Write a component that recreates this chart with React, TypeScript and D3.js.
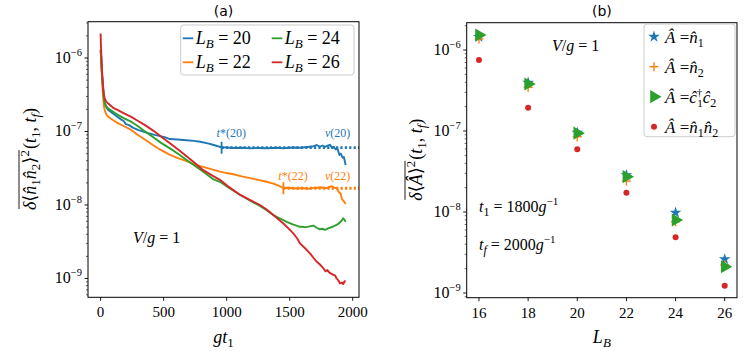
import { useLayoutEffect, useRef, useState } from 'react';
import * as d3 from 'd3';

// left panel: (t, variance) samples
const lb20: [number, number][] = [
  [0, 1.3e-6], [4, 1.1e-6], [10, 6.5e-7], [18, 4.3e-7], [25, 3.0e-7], [32, 2.45e-7], [45, 2.15e-7],
  [58, 1.98e-7], [90, 1.8e-7], [130, 1.6e-7], [164, 1.45e-7], [185, 1.38e-7], [200, 1.26e-7],
  [225, 1.22e-7], [260, 1.12e-7], [296, 1.05e-7], [350, 9.8e-8], [428, 9.0e-8], [508, 8.4e-8],
  [550, 7.9e-8], [610, 7.8e-8], [682, 7.6e-8], [740, 7.45e-8], [790, 7.25e-8], [850, 6.9e-8],
  [891, 6.6e-8], [930, 6.3e-8], [960, 6.1e-8], [1000, 6.05e-8], [1050, 5.95e-8], [1120, 6.0e-8],
  [1185, 5.9e-8], [1250, 5.97e-8], [1320, 5.92e-8], [1400, 6.0e-8], [1450, 5.93e-8], [1520, 6.05e-8],
  [1582, 6.0e-8], [1640, 6.15e-8], [1690, 6.3e-8], [1714, 6.55e-8], [1740, 6.2e-8], [1760, 6.45e-8],
  [1780, 6.2e-8], [1800, 6.4e-8], [1820, 6.6e-8], [1835, 6.0e-8], [1850, 6.2e-8], [1865, 5.7e-8],
  [1880, 5.8e-8], [1895, 4.8e-8], [1905, 5.0e-8], [1920, 4.4e-8], [1930, 4.5e-8], [1944, 3.5e-8],
];
const lb22: [number, number][] = [
  [0, 1.28e-6], [4, 1.0e-6], [10, 5.5e-7], [18, 3.3e-7], [25, 2.3e-7], [32, 1.95e-7], [45, 1.72e-7],
  [58, 1.6e-7], [100, 1.42e-7], [137, 1.3e-7], [190, 1.17e-7], [243, 1.05e-7], [290, 9.1e-8],
  [336, 8.1e-8], [400, 6.8e-8], [470, 5.7e-8], [550, 4.8e-8], [620, 4.3e-8], [682, 3.95e-8],
  [740, 3.6e-8], [790, 3.38e-8], [870, 3.1e-8], [947, 2.85e-8], [1000, 2.72e-8], [1052, 2.62e-8],
  [1120, 2.45e-8], [1185, 2.32e-8], [1250, 2.2e-8], [1317, 2.07e-8], [1370, 1.95e-8], [1423, 1.8e-8],
  [1450, 1.7e-8], [1500, 1.72e-8], [1550, 1.68e-8], [1600, 1.7e-8], [1650, 1.66e-8], [1700, 1.72e-8],
  [1750, 1.73e-8], [1790, 1.7e-8], [1833, 1.8e-8], [1855, 1.72e-8], [1873, 1.68e-8], [1890, 1.5e-8],
  [1905, 1.42e-8], [1915, 1.2e-8], [1930, 1.12e-8], [1944, 1.03e-8],
];
const lb24: [number, number][] = [
  [0, 1.28e-6], [4, 1.05e-6], [10, 6.5e-7], [18, 4.1e-7], [25, 2.9e-7], [32, 2.42e-7], [45, 2.2e-7],
  [58, 2.07e-7], [100, 1.85e-7], [137, 1.68e-7], [190, 1.5e-7], [243, 1.36e-7], [300, 1.17e-7],
  [360, 9.8e-8], [415, 8.4e-8], [480, 7.0e-8], [550, 5.9e-8], [620, 4.9e-8], [682, 4.1e-8],
  [750, 3.4e-8], [812, 2.86e-8], [891, 2.25e-8], [947, 2.07e-8], [1020, 1.7e-8], [1105, 1.38e-8],
  [1180, 1.16e-8], [1264, 9.7e-9], [1320, 8.4e-9], [1370, 7.3e-9], [1420, 6.6e-9], [1476, 5.9e-9],
  [1530, 5.4e-9], [1582, 5.05e-9], [1630, 5.0e-9], [1687, 5.25e-9], [1715, 4.9e-9], [1740, 4.65e-9],
  [1760, 4.75e-9], [1780, 4.6e-9], [1810, 4.85e-9], [1846, 5.1e-9], [1875, 5.4e-9], [1899, 5.8e-9],
  [1915, 6.2e-9], [1925, 6.6e-9], [1935, 6.3e-9], [1944, 5.9e-9],
];
const lb26: [number, number][] = [
  [0, 2.15e-6], [2, 1.6e-6], [5, 1.2e-6], [10, 7.0e-7], [18, 4.5e-7], [25, 3.3e-7], [32, 2.85e-7],
  [45, 2.55e-7], [58, 2.42e-7], [100, 2.1e-7], [137, 1.95e-7], [190, 1.75e-7], [243, 1.58e-7],
  [300, 1.38e-7], [349, 1.23e-7], [420, 1.02e-7], [481, 8.5e-8], [550, 6.9e-8], [620, 5.6e-8],
  [682, 4.6e-8], [750, 3.7e-8], [812, 3.0e-8], [880, 2.55e-8], [947, 2.2e-8], [1020, 1.75e-8],
  [1105, 1.38e-8], [1180, 1.18e-8], [1264, 1.0e-8], [1320, 8.6e-9], [1370, 7.3e-9], [1410, 6.4e-9],
  [1450, 5.6e-9], [1490, 4.8e-9], [1529, 4.1e-9], [1560, 3.5e-9], [1582, 3.0e-9], [1620, 2.6e-9],
  [1661, 2.2e-9], [1690, 1.9e-9], [1714, 1.7e-9], [1740, 1.55e-9], [1767, 1.38e-9], [1785, 1.25e-9],
  [1800, 1.3e-9], [1815, 1.2e-9], [1846, 1.12e-9], [1860, 1.1e-9], [1873, 1.0e-9], [1890, 9.2e-10],
  [1899, 8.6e-10], [1915, 8.8e-10], [1925, 8.4e-10], [1935, 9.2e-10], [1944, 9.0e-10],
];

// plateaus nu(L) and the times t*(L) where they start
const tStar20 = 960;
const nu20 = 6.02e-8;
const tStar22 = 1450;
const nu22 = 1.69e-8;

const xTicksA = [0, 500, 1000, 1500, 2000];
const decadesA = [-9, -8, -7, -6];

// right panel
const LB = [16, 18, 20, 22, 24, 26];
const varN1 = [1.45e-6, 3.95e-7, 9.55e-8, 2.86e-8, 9.8e-9, 2.61e-9];
const varN2 = [1.37e-6, 3.46e-7, 8.5e-8, 2.41e-8, 7.58e-9, 2.22e-9];
const varC1C2 = [1.53e-6, 3.8e-7, 9.4e-8, 2.73e-8, 7.96e-9, 2.11e-9];
const varN1N2 = [7.5e-7, 1.94e-7, 5.95e-8, 1.73e-8, 4.87e-9, 1.23e-9];
const xTicksB = [16, 18, 20, 22, 24, 26];
const decadesB = [-9, -8, -7, -6];

const C = { blue: '#1f77b4', orange: '#ff7f0e', green: '#2ca02c', red: '#d62728' };

const A = { left: 88, right: 359, top: 21.7, bottom: 297.3 };
const B = { left: 466.7, right: 737, top: 22.7, bottom: 297.7 };

const xA = d3.scaleLinear().domain([-100, 2050]).range([A.left, A.right]);
const yA = d3.scaleLog().domain([10 ** -9.256, 10 ** -5.506]).range([A.bottom, A.top]);
const xB = d3.scaleLinear().domain([15.5, 26.5]).range([B.left, B.right]);
const yB = d3.scaleLog().domain([10 ** -9.058, 10 ** -5.663]).range([B.bottom, B.top]);

function minorTicks(scale: d3.ScaleLogarithmic<number, number>) {
  const [lo, hi] = scale.domain();
  const out: number[] = [];
  for (let e = Math.floor(Math.log10(lo)); e <= Math.ceil(Math.log10(hi)); e++) {
    for (let k = 2; k <= 9; k++) {
      const v = k * 10 ** e;
      if (v >= lo && v <= hi) out.push(v);
    }
  }
  return out;
}

function Frame({ box }: { box: typeof A }) {
  return (
    <rect x={box.left} y={box.top} width={box.right - box.left} height={box.bottom - box.top}
      fill="none" stroke="#000" strokeWidth={1} />
  );
}

function LogAxis({ scale, box, decades }: any) {
  return (
    <g>
      {decades.map((e: number) => {
        const y = scale(10 ** e);
        return (
          <g key={e}>
            <line x1={box.left - 3.5} x2={box.left} y1={y} y2={y} stroke="#000" strokeWidth={0.9} />
            <text className="m" x={box.left - 6} y={y + 5} textAnchor="end" fontSize={16}>
              10<tspan fontSize={10.5} dy={-7}>−{-e}</tspan>
            </text>
          </g>
        );
      })}
      {minorTicks(scale).map((v, i) => (
        <line key={i} x1={box.left - 2} x2={box.left} y1={scale(v)} y2={scale(v)} stroke="#000" strokeWidth={0.6} />
      ))}
    </g>
  );
}

function XAxis({ scale, box, ticks }: any) {
  return (
    <g>
      {ticks.map((t: number) => (
        <g key={t}>
          <line x1={scale(t)} x2={scale(t)} y1={box.bottom} y2={box.bottom + 3.5} stroke="#000" strokeWidth={0.9} />
          <text className="m" x={scale(t)} y={box.bottom + 20} textAnchor="middle" fontSize={15}>{t}</text>
        </g>
      ))}
    </g>
  );
}

// rotated label: first part carries an overline, second part follows it
function BarLabel({ x, y, bar, rest }: any) {
  const r1 = useRef<SVGTextElement>(null);
  const r2 = useRef<SVGTextElement>(null);
  const [w, setW] = useState([60, 50]);
  useLayoutEffect(() => {
    if (r1.current && r2.current) {
      const a = r1.current.getBBox().width;
      const b = r2.current.getBBox().width;
      if (Math.abs(a - w[0]) > 0.5 || Math.abs(b - w[1]) > 0.5) setW([a, b]);
    }
  });
  const x0 = -(w[0] + w[1]) / 2;
  return (
    <g transform={`translate(${x},${y}) rotate(-90)`} fontSize={18}>
      <text className="m" ref={r1} x={x0} y={0}>{bar}</text>
      <line x1={x0 + 1} x2={x0 + w[0]} y1={-17} y2={-17} stroke="#000" strokeWidth={0.9} />
      <text className="m" ref={r2} x={x0 + w[0] + 1} y={0}>{rest}</text>
    </g>
  );
}

export default function App() {
  const line = d3.line<[number, number]>().x((d) => xA(d[0])).y((d) => yA(d[1]));
  const seriesA = [
    { data: lb20, color: C.blue },
    { data: lb22, color: C.orange },
    { data: lb24, color: C.green },
    { data: lb26, color: C.red },
  ];
  const legA = [
    { lab: '20', color: C.blue, col: 0, row: 0 },
    { lab: '24', color: C.green, col: 1, row: 0 },
    { lab: '22', color: C.orange, col: 0, row: 1 },
    { lab: '26', color: C.red, col: 1, row: 1 },
  ];
  const star = d3.symbol().type(d3.symbolStar).size(42)();
  const tri = d3.symbol().type(d3.symbolTriangle).size(75)();

  const Marker = ({ kind, x, y }: { kind: string; x: number; y: number }) => {
    if (kind === 'star') return <path d={star!} transform={`translate(${x},${y})`} fill={C.blue} />;
    if (kind === 'plus')
      return (
        <g stroke={C.orange} strokeWidth={1.4}>
          <line x1={x - 4.5} x2={x + 4.5} y1={y} y2={y} />
          <line x1={x} x2={x} y1={y - 4.5} y2={y + 4.5} />
        </g>
      );
    if (kind === 'tri') return <path d={tri!} transform={`translate(${x},${y}) rotate(90)`} fill={C.green} />;
    return <circle cx={x} cy={y} r={3} fill={C.red} />;
  };
  const seriesB = [
    { vals: varN1, kind: 'star' },
    { vals: varN2, kind: 'plus' },
    { vals: varC1C2, kind: 'tri' },
    { vals: varN1N2, kind: 'dot' },
  ];
  const tf = (
    <>
      <tspan>(</tspan><tspan fontStyle="italic">t</tspan><tspan fontSize={13} dy={4}>1</tspan>
      <tspan dy={-4}>, </tspan><tspan fontStyle="italic">t</tspan><tspan fontSize={13} fontStyle="italic" dy={4}>f</tspan><tspan dy={-4}>)</tspan>
    </>
  );

  return (
    <svg width={746} height={351} style={{ position: 'absolute', left: 0, top: 0 }}>
      <style>{`
        .m { font-family: "Liberation Serif", "DejaVu Serif", serif; }
        .s { font-family: "DejaVu Sans", sans-serif; }
      `}</style>
      <rect width={746} height={351} fill="#fff" />
      {/* ---------- panel (a) ---------- */}
      <defs>
        <clipPath id="clipA">
          <rect x={A.left} y={A.top} width={A.right - A.left} height={A.bottom - A.top} />
        </clipPath>
      </defs>
      <g clipPath="url(#clipA)">
        {seriesA.map((s, i) => (
          <path key={i} d={line(s.data)!} fill="none" stroke={s.color} strokeWidth={1.9} strokeLinejoin="round" />
        ))}
        <line x1={xA(tStar20)} x2={xA(2050)} y1={yA(nu20)} y2={yA(nu20)} stroke={C.blue} strokeWidth={2.8} strokeDasharray="2.2,2.2" />
        <line x1={xA(tStar22)} x2={xA(2050)} y1={yA(nu22)} y2={yA(nu22)} stroke={C.orange} strokeWidth={2.8} strokeDasharray="2.2,2.2" />
        <line x1={xA(tStar20)} x2={xA(tStar20)} y1={yA(nu20) - 6} y2={yA(nu20) + 6} stroke={C.blue} strokeWidth={1.8} />
        <line x1={xA(tStar22)} x2={xA(tStar22)} y1={yA(nu22) - 6} y2={yA(nu22) + 6} stroke={C.orange} strokeWidth={1.8} />
      </g>
      <g className="m" fontSize={12}>
        <text x={xA(tStar20) - 5} y={yA(nu20) - 11} fill={C.blue}><tspan fontStyle="italic">t</tspan>*(20)</text>
        <text x={xA(1880)} y={yA(nu20) - 11} fill={C.blue} textAnchor="middle"><tspan fontStyle="italic">ν</tspan>(20)</text>
        <text x={xA(tStar22) - 5} y={yA(nu22) - 8} fill={C.orange}><tspan fontStyle="italic">t</tspan>*(22)</text>
        <text x={xA(1880)} y={yA(nu22) - 8} fill={C.orange} textAnchor="middle"><tspan fontStyle="italic">ν</tspan>(22)</text>
      </g>
      <Frame box={A} />
      <LogAxis scale={yA} box={A} decades={decadesA} />
      <XAxis scale={xA} box={A} ticks={xTicksA} />
      <text className="s" x={(A.left + A.right) / 2} y={16} textAnchor="middle" fontSize={14}>(a)</text>
      <text className="m" x={(A.left + A.right) / 2} y={343} textAnchor="middle" fontSize={18} fontStyle="italic">
        gt<tspan fontStyle="normal" fontSize={13} dy={4}>1</tspan>
      </text>
      <text className="m" x={133} y={243} fontSize={16}>
        <tspan fontStyle="italic">V</tspan>/<tspan fontStyle="italic">g</tspan> = 1
      </text>
      <BarLabel x={36} y={(A.top + A.bottom) / 2}
        bar={<><tspan fontStyle="italic">δ</tspan>⟨<tspan fontStyle="italic">n̂</tspan><tspan fontSize={13} dy={4}>1</tspan>
          <tspan fontStyle="italic" dy={-4}>n̂</tspan><tspan fontSize={13} dy={4}>2</tspan><tspan dy={-4}>⟩</tspan>
          <tspan fontSize={13} dy={-7}>2</tspan></>}
        rest={tf} />
      {/* legend (a) */}
      <rect x={180.7} y={25} width={173.3} height={50} rx={3} fill="#fff" fillOpacity={0.8} stroke="#ccc" strokeWidth={1} />
      {legA.map((d, i) => {
        const x0 = 182.7 + d.col * 89;
        const y0 = 38.3 + d.row * 24;
        return (
          <g key={i}>
            <line x1={x0} x2={x0 + 10.6} y1={y0} y2={y0} stroke={d.color} strokeWidth={1.8} />
            <text className="m" x={x0 + 13} y={y0 + 6} fontSize={18}>
              <tspan fontStyle="italic">L</tspan><tspan fontStyle="italic" fontSize={13} dy={4}>B</tspan>
              <tspan dy={-4}> = {d.lab}</tspan>
            </text>
          </g>
        );
      })}

      {/* ---------- panel (b) ---------- */}
      {seriesB.map((s, si) => (
        <g key={si}>
          {s.vals.map((v, i) => (
            <Marker key={i} kind={s.kind} x={xB(LB[i])} y={yB(v)} />
          ))}
        </g>
      ))}
      <Frame box={B} />
      <LogAxis scale={yB} box={B} decades={decadesB} />
      <XAxis scale={xB} box={B} ticks={xTicksB} />
      <text className="s" x={(B.left + B.right) / 2} y={16} textAnchor="middle" fontSize={14}>(b)</text>
      <text className="m" x={(B.left + B.right) / 2} y={343} textAnchor="middle" fontSize={18} fontStyle="italic">
        L<tspan fontSize={13} dy={4}>B</tspan>
      </text>
      <text className="m" x={552} y={51} fontSize={16}>
        <tspan fontStyle="italic">V</tspan>/<tspan fontStyle="italic">g</tspan> = 1
      </text>
      <text className="m" x={479} y={212} fontSize={16}>
        <tspan fontStyle="italic">t</tspan><tspan fontSize={12} dy={4}>1</tspan><tspan dy={-4}> = 1800</tspan>
        <tspan fontStyle="italic">g</tspan><tspan fontSize={11} dy={-7}>−1</tspan>
      </text>
      <text className="m" x={479} y={250} fontSize={16}>
        <tspan fontStyle="italic">t</tspan><tspan fontSize={12} fontStyle="italic" dy={4}>f</tspan><tspan dy={-4}> = 2000</tspan>
        <tspan fontStyle="italic">g</tspan><tspan fontSize={11} dy={-7}>−1</tspan>
      </text>
      <BarLabel x={422} y={(B.top + B.bottom) / 2}
        bar={<><tspan fontStyle="italic">δ</tspan>⟨<tspan fontStyle="italic">Â</tspan>⟩<tspan fontSize={13} dy={-7}>2</tspan></>}
        rest={tf} />
      {/* legend (b) */}
      <rect x={644} y={24} width={91} height={112.7} rx={3} fill="#fff" fillOpacity={0.8} stroke="#ccc" strokeWidth={1} />
      {seriesB.map((s, i) => {
        const y0 = 36.7 + i * 30;
        return (
          <g key={i}>
            <Marker kind={s.kind} x={654} y={y0} />
            <text className="m" x={665} y={y0 + 6} fontSize={17}>
              <tspan fontStyle="italic">Â</tspan> =
              {i === 0 && (<><tspan fontStyle="italic">n̂</tspan><tspan fontSize={12} dy={4}>1</tspan></>)}
              {i === 1 && (<><tspan fontStyle="italic">n̂</tspan><tspan fontSize={12} dy={4}>2</tspan></>)}
              {i === 2 && (<><tspan fontStyle="italic">ĉ</tspan><tspan fontSize={11} dy={-7}>†</tspan><tspan fontSize={11} dx={-5} dy={11}>1</tspan>
                <tspan fontStyle="italic" dy={-4}>ĉ</tspan><tspan fontSize={12} dy={4}>2</tspan></>)}
              {i === 3 && (<><tspan fontStyle="italic">n̂</tspan><tspan fontSize={12} dy={4}>1</tspan>
                <tspan fontStyle="italic" dy={-4}>n̂</tspan><tspan fontSize={12} dy={4}>2</tspan></>)}
            </text>
          </g>
        );
      })}
    </svg>
  );
}
